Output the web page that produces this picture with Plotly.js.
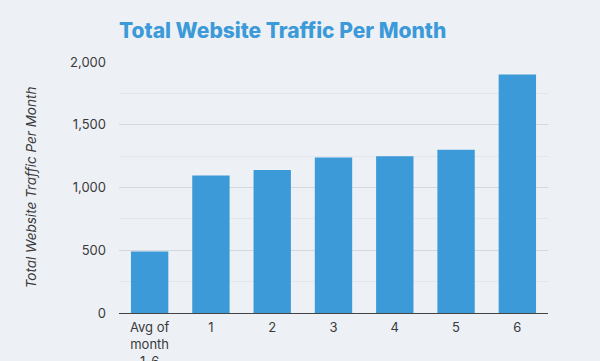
<!DOCTYPE html>
<html>
<head>
<meta charset="utf-8">
<script src="https://cdn.plot.ly/plotly-3.0.1.min.js"></script>
<style>
html,body{margin:0;padding:0;background:#edf1f6;}
#chart{width:600px;height:361px;}
</style>
</head>
<body>
<div id="chart"></div>
<script>
var categories = ["Avg of<br>month<br>1-6", "1", "2", "3", "4", "5", "6"];
var traffic = [490, 1095, 1140, 1240, 1250, 1300, 1900];
var yTickVals = [0, 500, 1000, 1500, 2000];
var yTickText = ["0", "500", "1,000", "1,500", "2,000"];

var trace = {
  type: "bar",
  x: categories,
  y: traffic,
  marker: {color: "#3c9ad9"},
  hoverinfo: "x+y"
};

var layout = {
  width: 600,
  height: 361,
  paper_bgcolor: "#edf1f6",
  plot_bgcolor: "#edf1f6",
  margin: {l: 119, r: 52, t: 62, b: 48},
  bargap: 0.39,
  showlegend: false,
  font: {family: "Inter, 'Open Sans', sans-serif", color: "#3a3a3a", size: 13},
  title: {
    text: "Total Website Traffic Per Month",
    font: {family: "Inter, 'Open Sans', sans-serif", size: 21, color: "#3c9ad9", weight: 800},
    xref: "paper", x: 0, xanchor: "left",
    yref: "container", y: 0.915, yanchor: "middle"
  },
  xaxis: {
    type: "category",
    tickfont: {size: 13, color: "#3a3a3a"},
    showline: true,
    linecolor: "#444444",
    linewidth: 1.2,
    ticks: "",
    ticklabelstandoff: 2,
    showgrid: false,
    fixedrange: true
  },
  yaxis: {
    range: [0, 2000],
    tickvals: yTickVals,
    ticktext: yTickText,
    tickfont: {size: 13, color: "#3a3a3a"},
    ticklabelstandoff: 12,
    gridcolor: "#d3d8de",
    gridwidth: 1,
    zeroline: false,
    ticks: "",
    ticklen: 0,
    minor: {dtick: 250, showgrid: true, gridcolor: "#e2e6eb", gridwidth: 1, ticks: ""},
    title: {
      text: "<i>Total Website Traffic Per Month</i>",
      font: {size: 13.5, color: "#3a3a3a"},
      standoff: 30
    },
    automargin: false,
    fixedrange: true
  }
};

Plotly.newPlot("chart", [trace], layout, {displayModeBar: false, staticPlot: true});
</script>
</body>
</html>
